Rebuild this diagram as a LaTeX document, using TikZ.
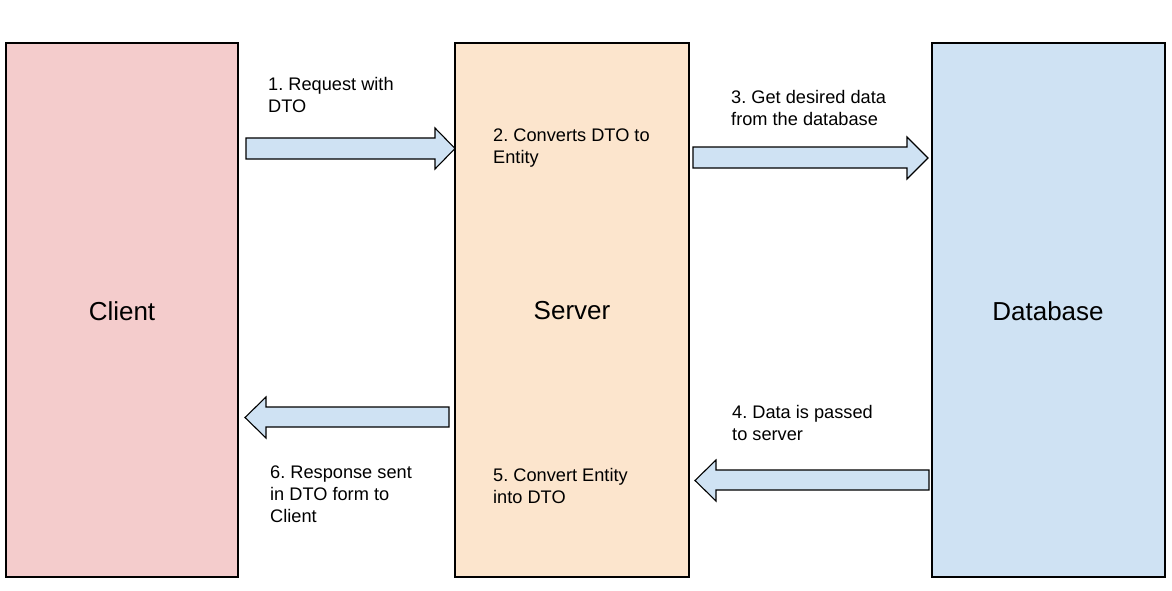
\documentclass[tikz,border=0pt]{standalone}
\usepackage{fontspec}
\setmainfont{Liberation Sans}
\frenchspacing
\begin{document}
\begin{tikzpicture}[x=1pt,y=-1pt,
  box/.style={draw=black,line width=1.1pt},
  blockarrow/.style={draw=black,line width=1.1pt,fill=arrowblue,line join=miter},
  lbl/.style={anchor=west,align=left,inner sep=0pt,font=\fontsize{18.2}{22}\selectfont},
  big/.style={inner sep=0pt,font=\fontsize{26}{30}\selectfont}]
\definecolor{clientpink}{HTML}{F4CCCC}
\definecolor{serverpeach}{HTML}{FCE5CD}
\definecolor{dbblue}{HTML}{CFE2F3}
\definecolor{arrowblue}{HTML}{CFE2F3}
\useasboundingbox (0,0) rectangle (1172,591);
\fill[white] (0,0) rectangle (1172,591);
% boxes
\draw[box,fill=clientpink] (6,43) rectangle (238,577);
\draw[box,fill=serverpeach] (455,43) rectangle (689,577);
\draw[box,fill=dbblue] (932,43) rectangle (1165,577);
\node[big] (client) at (122,311) {Client};
\node[big] (server) at (572,311) {Server};
\node[big] (db) at (1048,311) {Database};
% block arrows (right-pointing)
\draw[blockarrow] (246,138) -- (435,138) -- (435,128) -- (455,148.5) -- (435,169) -- (435,159) -- (246,159) -- cycle;
\draw[blockarrow] (693,147) -- (907,147) -- (907,137) -- (928,158) -- (907,179) -- (907,168) -- (693,168) -- cycle;
% block arrows (left-pointing)
\draw[blockarrow] (929,470) -- (716,470) -- (716,460) -- (695,480.5) -- (716,501) -- (716,490) -- (929,490) -- cycle;
\draw[blockarrow] (449,407) -- (266,407) -- (266,397) -- (245,417.5) -- (266,438) -- (266,427) -- (449,427) -- cycle;
% labels
\node[lbl] (t1) at (268,95) {1. Request with\\DTO};
\node[lbl] (t2) at (493,148.5) {2. Converts DTO to\\Entity};
\node[lbl] (t3) at (731,107.5) {3. Get desired data\\from the database};
\node[lbl] (t4) at (732,422.5) {4. Data is passed\\to server};
\node[lbl] (t5) at (493,485.5) {5. Convert Entity\\into DTO};
\node[lbl] (t6) at (270,494.5) {6. Response sent\\in DTO form to\\Client};
\end{tikzpicture}
\end{document}
